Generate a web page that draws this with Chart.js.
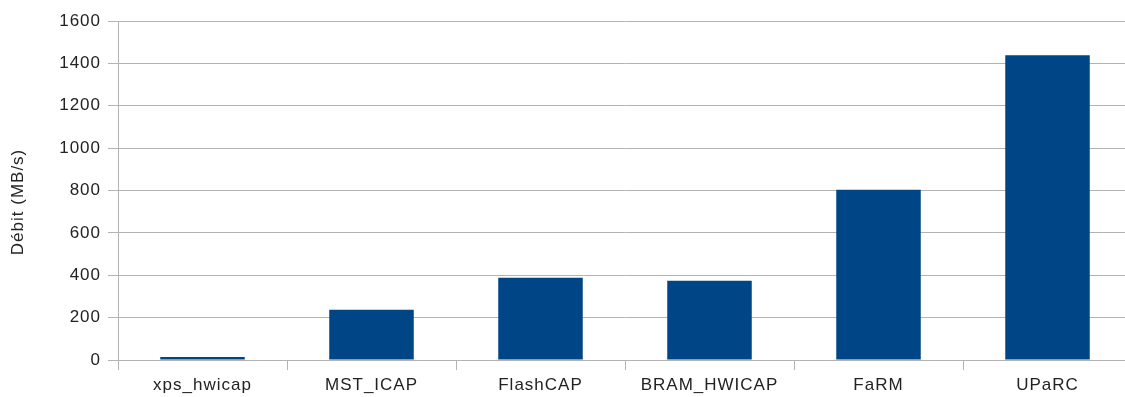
<!DOCTYPE html>
<html><head><meta charset="utf-8">
<script src="https://cdn.jsdelivr.net/npm/chart.js@4"></script>
<style>html,body{margin:0;padding:0;overflow:hidden;background:#fff}canvas{display:block}</style>
</head><body>
<canvas id="c" width="1135" height="397"></canvas>
<script>
const categories = ["xps_hwicap","MST_ICAP","FlashCAP","BRAM_HWICAP","FaRM","UPaRC"];
const debit = [14, 237, 388, 374, 804, 1438];
const yTicks = [0,200,400,600,800,1000,1200,1400,1600];
const yTitle = "Débit (MB/s)";

const grid = '#b3b3b3';
const font = {family:'"Liberation Sans", Arial, sans-serif', size:17};
const spacing = {id:'spacing', beforeDraw(chart){ chart.ctx.letterSpacing = '1px'; }};
new Chart(document.getElementById('c'), {
  type:'bar',
  data:{labels:categories, datasets:[{data:debit, backgroundColor:'#004586', barPercentage:0.5, categoryPercentage:1.0}]},
  plugins:[spacing],
  options:{
    responsive:false, animation:false,
    layout:{padding:{top:21, right:3, left:0, bottom:0}},
    plugins:{legend:{display:false}, tooltip:{enabled:false}},
    scales:{
      x:{
        grid:{offset:true, drawOnChartArea:false, color:grid, tickLength:10, lineWidth:1},
        border:{color:grid},
        ticks:{color:'#222', font:font, padding:5, maxRotation:0, autoSkip:false},
        afterFit:s=>{s.height=37;}
      },
      y:{
        min:0, max:1600,
        afterBuildTicks:s=>{s.ticks=yTicks.map(v=>({value:v}));},
        grid:{color:grid, tickLength:10, lineWidth:1},
        border:{color:grid},
        ticks:{color:'#222', font:font, padding:7, callback:v=>String(v)},
        title:{display:true, text:yTitle + '    ', color:'#222', font:font, padding:{top:8,bottom:0}},
        afterFit:s=>{s.width=118;}
      }
    }
  }
});
</script>
</body></html>
